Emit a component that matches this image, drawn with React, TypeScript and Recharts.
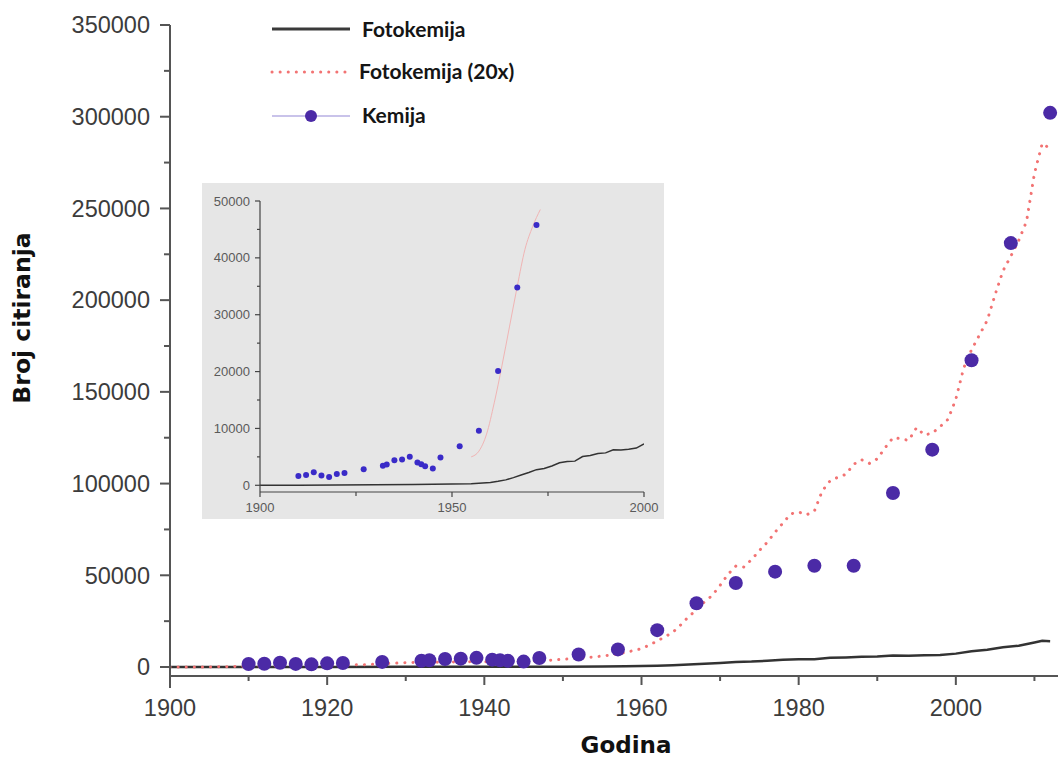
import { ComposedChart, Line, Scatter, XAxis, YAxis, Legend } from "recharts";

const TICK_FONT = '"Liberation Sans", Arial, sans-serif';
const TITLE_FONT = '"DejaVu Sans", Verdana, sans-serif';
const LEGEND_FONT = 'Lato, "Open Sans", sans-serif';
const AXIS = "#555";
const DOT = "#4b2aa6";
const RED = "#f27373";

// Kemija – broj citiranja (točke)
const KEMIJA_YEARS = [
  1910, 1912, 1914, 1916, 1918, 1920, 1922, 1927, 1932, 1933, 1935, 1937, 1939, 1941, 1942, 1943,
  1945, 1947, 1952, 1957, 1962, 1967, 1972, 1977, 1982, 1987, 1992, 1997, 2002, 2007, 2012,
];
const KEMIJA_VALUES = [
  1650, 1800, 2300, 1700, 1450, 2000, 2150, 2800, 3450, 3650, 4400, 4550, 5000, 4000, 3700, 3350,
  2950, 4900, 6850, 9600, 20100, 34800, 45800, 52000, 55200, 55200, 94900, 118500, 167200, 231100, 302100,
];

// Fotokemija (crna linija)
const FOTO_YEARS = [
  1900, 1910, 1920, 1930, 1940, 1950, 1955, 1958, 1960, 1962, 1964, 1966, 1968, 1970, 1972, 1974,
  1976, 1978, 1980, 1982, 1984, 1986, 1988, 1990, 1992, 1994, 1996, 1998, 2000, 2002, 2004, 2006,
  2008, 2010, 2011, 2012,
];
const FOTO_VALUES = [
  0, 20, 45, 110, 145, 210, 290, 400, 500, 700, 950, 1350, 1800, 2250, 2750, 2950,
  3400, 3950, 4200, 4250, 5050, 5250, 5600, 5700, 6250, 6200, 6350, 6550, 7300, 8650, 9450, 10800,
  11600, 13400, 14300, 14100,
];

// Fotokemija (20x) – crvena točkasta
const FOTO20_YEARS = [
  1900, 1905, 1910, 1915, 1920, 1925, 1930, 1935, 1940, 1945, 1948, 1950, 1952, 1954, 1956, 1958,
  1960, 1961, 1962, 1963, 1964, 1965, 1966, 1967, 1968, 1969, 1970, 1971, 1972, 1973, 1974, 1975,
  1976, 1977, 1978, 1979, 1980, 1981, 1982, 1983, 1984, 1985, 1986, 1987, 1988, 1989, 1990, 1991,
  1992, 1993, 1994, 1995, 1996, 1997, 1998, 1999, 2000, 2001, 2002, 2003, 2004, 2005, 2006, 2007,
  2008, 2009, 2010, 2011, 2012,
];
const FOTO20_VALUES = [
  0, 0, 400, 700, 900, 1300, 2400, 2700, 2900, 3000, 3600, 4200, 4800, 5500, 6500, 8000,
  10000, 12000, 14200, 16500, 19000, 23000, 27500, 31000, 35500, 39000, 44500, 50500, 55000, 54500, 58500, 63500,
  68000, 73500, 78500, 83500, 84500, 83000, 85000, 96000, 101500, 103500, 105000, 110500, 113000, 111000, 113500, 119500,
  125000, 124500, 123500, 130500, 126500, 127500, 131000, 135000, 146000, 163000, 173000, 181000, 189000, 203000, 216000, 224000,
  232500, 243000, 269000, 285500, 282500,
];

// umetak – tanka crvena krivulja
const INSET_RED_YEARS = [1955, 1957, 1959, 1961, 1963, 1965, 1967, 1969, 1971, 1973];
const INSET_RED_VALUES = [5000, 6000, 9000, 14500, 21000, 28000, 35000, 41500, 45500, 48500];

const MAIN_X_TICKS = [1900, 1910, 1920, 1930, 1940, 1950, 1960, 1970, 1980, 1990, 2000, 2010];
const MAIN_Y_TICKS = [
  0, 25000, 50000, 75000, 100000, 125000, 150000, 175000, 200000, 225000, 250000, 275000, 300000, 325000, 350000,
];
const INSET_X_TICKS = [1900, 1925, 1950, 1975, 2000];
const INSET_Y_TICKS = [0, 5000, 10000, 15000, 20000, 25000, 30000, 35000, 40000, 45000, 50000];
const LEGEND_LABELS = ["Fotokemija", "Fotokemija (20x)", "Kemija"];

const MAIN_Y_MIN = -4900;
const INSET_Y_MIN = -1180;

const zip = (xs: number[], ys: number[]) => xs.map((year, i) => ({ year, value: ys[i] }));
const kemija = zip(KEMIJA_YEARS, KEMIJA_VALUES);
const foto = zip(FOTO_YEARS, FOTO_VALUES);
const foto20 = zip(FOTO20_YEARS, FOTO20_VALUES);
const insetRed = zip(INSET_RED_YEARS, INSET_RED_VALUES);

const mainXTick = (p: any) => {
  const { x, y, payload } = p;
  const major = payload.value % 20 === 0;
  return (
    <g>
      <line x1={x} y1={y} x2={x} y2={y + (major ? 9 : 5)} stroke={AXIS} strokeWidth={2} />
      {major && (
        <text x={x} y={y + 32} dy="0.35em" textAnchor="middle" fontSize={23.5} fontFamily={TICK_FONT} fill="#3c3c3c">
          {payload.value}
        </text>
      )}
    </g>
  );
};

const mainYTick = (p: any) => {
  const { x, y, payload } = p;
  const v = payload.value;
  if (v === MAIN_Y_MIN) return <line x1={x} y1={y} x2={x} y2={y + 12} stroke={AXIS} strokeWidth={2} />;
  const major = v % 50000 === 0;
  return (
    <g>
      <line x1={x - (major ? 10 : 6)} y1={y} x2={x} y2={y} stroke={AXIS} strokeWidth={2} />
      {major && (
        <text x={x - 20} y={y} dy="0.35em" textAnchor="end" fontSize={23.5} fontFamily={TICK_FONT} fill="#3c3c3c">
          {v}
        </text>
      )}
    </g>
  );
};

const insetXTick = (p: any) => {
  const { x, y, payload } = p;
  const major = payload.value % 50 === 0;
  return (
    <g>
      <line x1={x} y1={y} x2={x} y2={y + (major ? 5 : 4)} stroke="#444" strokeWidth={1.2} />
      {major && (
        <text x={x} y={y + 15} dy="0.35em" textAnchor="middle" fontSize={13} fontFamily={TICK_FONT} fill="#5a5a5a">
          {payload.value}
        </text>
      )}
    </g>
  );
};

const insetYTick = (p: any) => {
  const { x, y, payload } = p;
  const major = payload.value % 10000 === 0;
  return (
    <g>
      <line x1={x - (major ? 5 : 3)} y1={y} x2={x} y2={y} stroke="#444" strokeWidth={1.2} />
      {major && (
        <text x={x - 10} y={y} dy="0.35em" textAnchor="end" fontSize={13} fontFamily={TICK_FONT} fill="#5a5a5a">
          {payload.value}
        </text>
      )}
    </g>
  );
};

const renderLegend = () => (
  <svg width={290} height={120}>
    <line x1={10} y1={19} x2={88} y2={19} stroke="#3a3a3a" strokeWidth={3} />
    <line x1={10} y1={62} x2={84} y2={62} stroke={RED} strokeWidth={3} strokeDasharray="0.1 8" strokeLinecap="round" />
    <line x1={10} y1={106} x2={88} y2={106} stroke="#c9c3ea" strokeWidth={2} />
    <circle cx={49} cy={106} r={6} fill={DOT} />
    {LEGEND_LABELS.map((t, i) => (
      <text
        key={t}
        x={i === 1 ? 97 : 100}
        y={[20, 62, 106][i]}
        dy="0.35em"
        fontSize={21}
        fontWeight={700}
        fontFamily={LEGEND_FONT}
        fill="#151515"
      >
        {t}
      </text>
    ))}
  </svg>
);

const dotShape = (r: number, fill: string) => (p: any) => <circle cx={p.cx} cy={p.cy} r={r} fill={fill} />;

export default function App() {
  return (
    <div style={{ position: "absolute", left: 0, top: 0, width: 1060, height: 760, background: "#fff" }}>
      <ComposedChart width={1060} height={760} margin={{ top: 25, right: 2, bottom: 0, left: 0 }}>
        <XAxis
          type="number"
          dataKey="year"
          domain={[1900, 2013]}
          ticks={MAIN_X_TICKS}
          interval={0}
          tickSize={0}
          tickMargin={0}
          tickLine={false}
          axisLine={{ stroke: AXIS, strokeWidth: 2 }}
          height={84}
          tick={mainXTick}
          label={{
            content: () => (
              <text x={626} y={753} textAnchor="middle" fontSize={23} fontWeight={700} fontFamily={TITLE_FONT} fill="#111">
                Godina
              </text>
            ),
          }}
        />
        <YAxis
          type="number"
          domain={[MAIN_Y_MIN, 350000]}
          ticks={[MAIN_Y_MIN, ...MAIN_Y_TICKS]}
          interval={0}
          tickSize={0}
          tickMargin={0}
          tickLine={false}
          axisLine={{ stroke: AXIS, strokeWidth: 2 }}
          width={170}
          tick={mainYTick}
          label={{
            content: () => (
              <text
                x={30}
                y={318}
                transform="rotate(-90 30 318)"
                textAnchor="middle"
                fontSize={23.5}
                fontWeight={700}
                fontFamily={TITLE_FONT}
                fill="#111"
              >
                Broj citiranja
              </text>
            ),
          }}
        />
        <Legend
          layout="vertical"
          align="center"
          verticalAlign="middle"
          content={renderLegend}
          wrapperStyle={{ left: 262, top: 10, width: 290, height: 120 }}
        />
        <Line data={foto} dataKey="value" type="linear" stroke="#333" strokeWidth={2.5} dot={false} isAnimationActive={false} />
        <Line
          data={foto20}
          dataKey="value"
          type="linear"
          stroke={RED}
          strokeWidth={3}
          strokeDasharray="0.1 8"
          strokeLinecap="round"
          dot={false}
          isAnimationActive={false}
        />
        <Scatter data={kemija} dataKey="value" fill={DOT} shape={dotShape(7, DOT)} isAnimationActive={false} />
      </ComposedChart>

      <div style={{ position: "absolute", left: 202, top: 183, width: 462, height: 336, background: "#e6e6e6" }}>
        <ComposedChart width={462} height={336} margin={{ top: 18, right: 20, bottom: 6, left: 0 }}>
          <XAxis
            type="number"
            dataKey="year"
            domain={[1900, 2000]}
            allowDataOverflow
            ticks={INSET_X_TICKS}
            interval={0}
            tickSize={0}
            tickMargin={0}
            tickLine={false}
            axisLine={{ stroke: "#444", strokeWidth: 1.2 }}
            height={21}
            tick={insetXTick}
          />
          <YAxis
            type="number"
            domain={[INSET_Y_MIN, 50000]}
            allowDataOverflow
            ticks={INSET_Y_TICKS}
            interval={0}
            tickSize={0}
            tickMargin={0}
            tickLine={false}
            axisLine={{ stroke: "#444", strokeWidth: 1.2 }}
            width={58}
            tick={insetYTick}
          />
          <Line
            data={foto.filter((d) => d.year <= 2000)}
            dataKey="value"
            type="linear"
            stroke="#333"
            strokeWidth={1.5}
            dot={false}
            isAnimationActive={false}
          />
          <Line data={insetRed} dataKey="value" type="monotone" stroke="#f0b4b4" strokeWidth={1} dot={false} isAnimationActive={false} />
          <Scatter
            data={kemija.filter((d) => d.year <= 1972)}
            dataKey="value"
            fill="#3a2bc8"
            shape={dotShape(3, "#3a2bc8")}
            isAnimationActive={false}
          />
        </ComposedChart>
      </div>
    </div>
  );
}
